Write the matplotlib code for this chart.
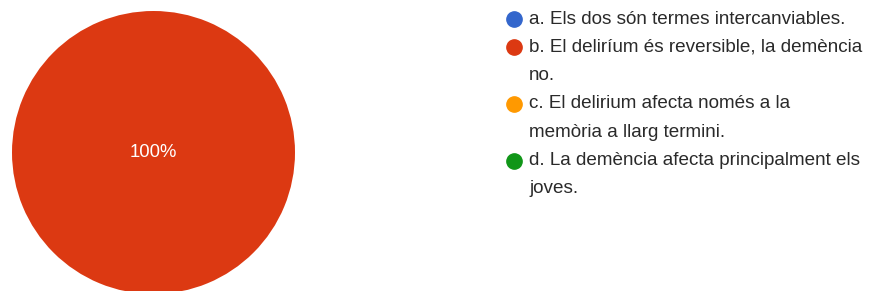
import matplotlib.pyplot as plt
from matplotlib.lines import Line2D

# Dades del gràfic
labels = [
    "a. Els dos són termes intercanviables.",
    "b. El deliríum és reversible, la demència\nno.",
    "c. El delirium afecta només a la\nmemòria a llarg termini.",
    "d. La demència afecta principalment els\njoves.",
]
values = [0, 100, 0, 0]
colors = ["#3366cc", "#dc3912", "#ff9900", "#109618"]

plt.rcParams['font.family'] = ['Liberation Sans', 'DejaVu Sans']

W, H = 871, 291
fig = plt.figure(figsize=(W / 100, H / 100), dpi=100)

# Pastís
ax = fig.add_axes([12 / W, (H - 294) / H, 283 / W, 283 / H])
ax.pie(values, colors=colors, startangle=90, counterclock=False,
       autopct=lambda p: f"{p:.0f}%" if p > 0 else "", pctdistance=0,
       textprops=dict(color="white", fontsize=13.3))
ax.set_xlim(-1, 1)
ax.set_ylim(-1, 1)
ax.set_aspect("equal")
ax.axis("off")

# Llegenda feta a mà: el punt va alineat amb la primera línia
line_h = 28.3
y = 19
for lab, col in zip(labels, colors):
    fig.add_artist(Line2D([514 / W], [1 - y / H], marker="o", markersize=11,
                          color=col, linestyle="none"))
    for line in lab.split("\n"):
        fig.text(529 / W, 1 - y / H, line, fontsize=13.6, color="#2a2a2a",
                 va="center", ha="left")
        y += line_h

fig.savefig("out.png", dpi=100)
